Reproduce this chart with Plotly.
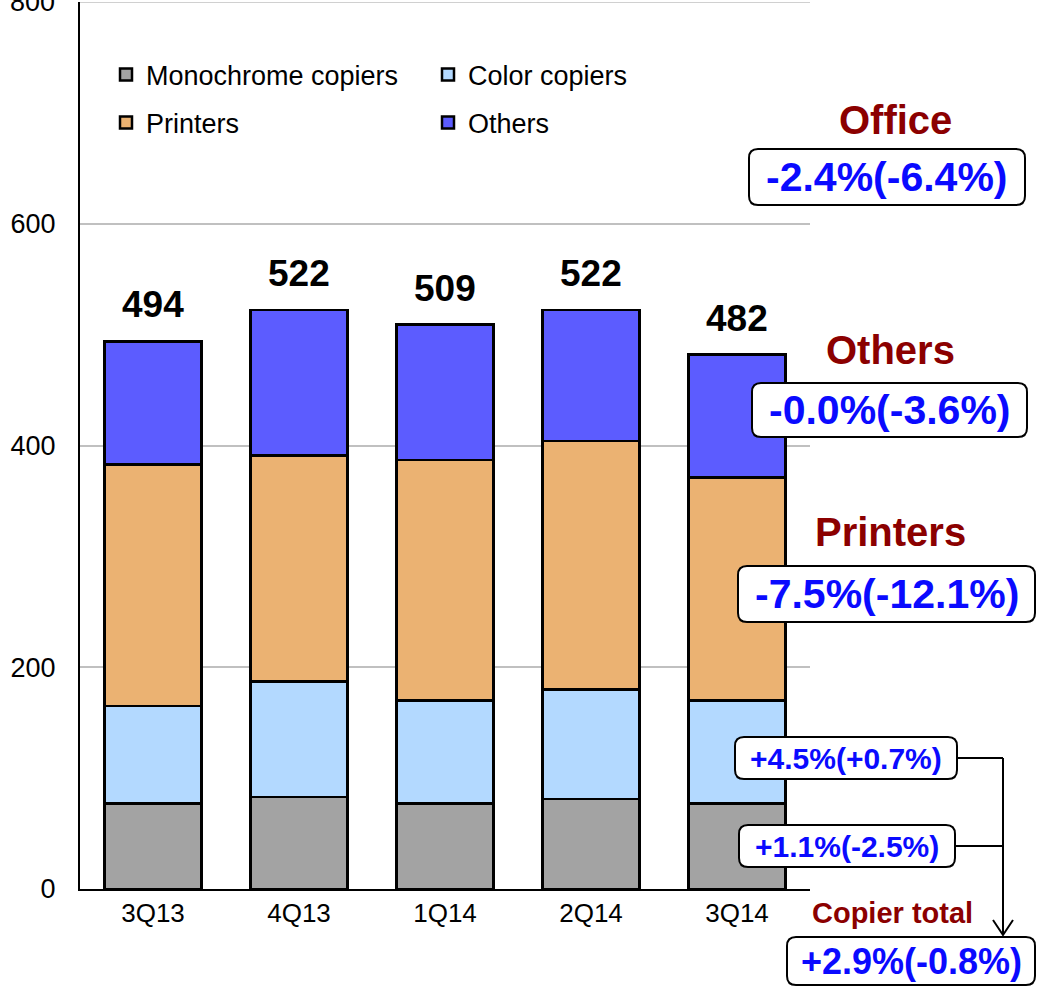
import plotly.graph_objects as go

categories = ["3Q13", "4Q13", "1Q14", "2Q14", "3Q14"]
mono = [77, 83, 77, 81, 77]
color = [88, 104, 93, 99, 93]
printers = [218, 204, 217, 224, 201]
others = [111, 131, 122, 118, 111]
totals = [494, 522, 509, 522, 482]
y_ticks = [0, 200, 400, 600, 800]

series_names = ["Monochrome copiers", "Color copiers", "Printers", "Others"]
series_colors = ["#a3a3a3", "#b3d9ff", "#ebb272", "#5c5cff"]
series_legends = ["legend", "legend2", "legend3", "legend4"]

FONT = "Arial, Liberation Sans, sans-serif"
W, H = 1038, 988
L, R, T, B = 80, 228, 2, 99
PW, PH = W - L - R, H - T - B
Y_MAX = 800


def xp(px):
    return (px - L) / PW


def yp(py):
    return (H - B - py) / PH


fig = go.Figure()
for name, vals, col, lg in zip(series_names, [mono, color, printers, others], series_colors, series_legends):
    fig.add_trace(go.Bar(
        x=categories, y=vals, name=name, legend=lg,
        marker=dict(color=col, line=dict(color="black", width=2.5)),
        hoverinfo="x+y+name",
    ))

annotations = []
for c, t in zip(categories, totals):
    annotations.append(dict(x=c, y=t, text=f"<b>{t}</b>", showarrow=False, yanchor="bottom",
                            yshift=14, font=dict(family=FONT, size=37, color="black")))

# top tick label (sits on the plot edge, partly cut by the page)
annotations.append(dict(xref="paper", yref="y", x=xp(57), y=y_ticks[-1], text=str(y_ticks[-1]),
                        showarrow=False, xanchor="right", yanchor="middle",
                        font=dict(family=FONT, size=27, color="black")))

DARKRED = "#8b0000"
BLUE = "#0a0aff"

headers = [("Office", 895, 120, 40), ("Others", 890, 350, 40), ("Printers", 890, 532, 40),
           ("Copier total", 893, 913, 29)]
for txt, cx, cy, fs in headers:
    annotations.append(dict(xref="paper", yref="paper", x=xp(cx), y=yp(cy), text=f"<b>{txt}</b>",
                            showarrow=False, xanchor="center", yanchor="middle",
                            font=dict(family=FONT, size=fs, color=DARKRED)))

boxes = [("-2.4%(-6.4%)", 749, 149, 1025, 205, 41),
         ("-0.0%(-3.6%)", 752, 383, 1027, 437, 41),
         ("-7.5%(-12.1%)", 738, 566, 1035, 622, 41),
         ("+4.5%(+0.7%)", 735, 737, 957, 779, 30),
         ("+1.1%(-2.5%)", 739, 825, 955, 867, 30),
         ("+2.9%(-0.8%)", 787, 937, 1035, 985, 36)]

shapes = [dict(type="line", xref="paper", yref="y", x0=0, x1=1, y0=y_ticks[-1], y1=y_ticks[-1],
               line=dict(color="#c0c0c0", width=1.5), layer="below")]
for txt, x0, y0, x1, y1, fs in boxes:
    r = 9
    X0, X1 = xp(x0), xp(x1)
    Y0, Y1 = yp(y0), yp(y1)
    rx, ry = r / PW, r / PH
    path = (f"M {X0+rx},{Y0} L {X1-rx},{Y0} Q {X1},{Y0} {X1},{Y0-ry} "
            f"L {X1},{Y1+ry} Q {X1},{Y1} {X1-rx},{Y1} "
            f"L {X0+rx},{Y1} Q {X0},{Y1} {X0},{Y1+ry} "
            f"L {X0},{Y0-ry} Q {X0},{Y0} {X0+rx},{Y0} Z")
    shapes.append(dict(type="path", xref="paper", yref="paper", path=path,
                       fillcolor="white", line=dict(color="black", width=2), layer="above"))
    annotations.append(dict(xref="paper", yref="paper", x=(X0 + X1) / 2, y=(Y0 + Y1) / 2,
                            text=f"<b>{txt}</b>", showarrow=False, xanchor="center", yanchor="middle",
                            font=dict(family=FONT, size=fs, color=BLUE)))

# connector lines and arrow
for (ax0, ay0, ax1, ay1) in [(957, 758, 1003, 758), (955, 846, 1003, 846), (1003, 758, 1003, 934)]:
    shapes.append(dict(type="line", xref="paper", yref="paper", x0=xp(ax0), y0=yp(ay0),
                       x1=xp(ax1), y1=yp(ay1), line=dict(color="black", width=2)))
shapes.append(dict(type="path", xref="paper", yref="paper",
                   path=f"M {xp(993)},{yp(920)} L {xp(1003)},{yp(935)} L {xp(1013)},{yp(920)}",
                   line=dict(color="black", width=2)))

legend_common = dict(font=dict(family=FONT, size=27, color="black"), bgcolor="rgba(0,0,0,0)",
                     xanchor="left", yanchor="middle", itemwidth=30, orientation="v")

fig.update_layout(
    width=W, height=H,
    margin=dict(l=L, r=R, t=T, b=B),
    paper_bgcolor="white", plot_bgcolor="white",
    barmode="stack", bargap=0.335,
    font=dict(family=FONT, color="black"),
    showlegend=True,
    legend=dict(x=xp(106), y=yp(75), **legend_common),
    legend2=dict(x=xp(428), y=yp(75), **legend_common),
    legend3=dict(x=xp(106), y=yp(123), **legend_common),
    legend4=dict(x=xp(428), y=yp(123), **legend_common),
    xaxis=dict(showline=True, linecolor="black", linewidth=2, ticks="",
               tickfont=dict(family=FONT, size=26, color="black"), showgrid=False),
    yaxis=dict(range=[0, Y_MAX], tickvals=y_ticks, showline=True, linecolor="black", linewidth=2,
               ticks="", showgrid=True, gridcolor="#c0c0c0", gridwidth=1.5, zeroline=False,
               tickfont=dict(family=FONT, size=27, color="black"), ticklabelstandoff=17),
    annotations=annotations,
    shapes=shapes,
)

fig.write_html("out.html")
